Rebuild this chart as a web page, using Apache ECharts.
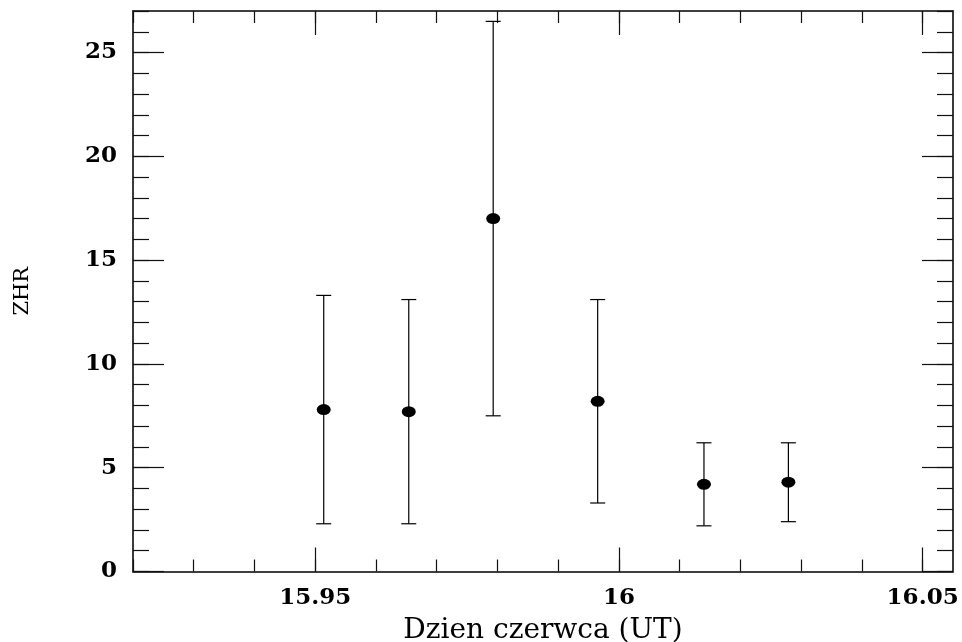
<!DOCTYPE html>
<html>
<head>
<meta charset="utf-8">
<script src="https://cdn.jsdelivr.net/npm/echarts@6/dist/echarts.min.js"></script>
<style>
  html, body { margin: 0; padding: 0; background: #fff; }
  #chart { width: 962px; height: 642px; }
</style>
</head>
<body>
<div id="chart"></div>
<script>
// ---- data ----
const dayUT   = [15.9514, 15.9654, 15.9793, 15.9965, 16.0140, 16.0279];
const zhr     = [7.8, 7.7, 17.0, 8.2, 4.2, 4.3];
const zhrLow  = [2.3, 2.3, 7.5, 3.3, 2.2, 2.4];
const zhrHigh = [13.3, 13.1, 26.5, 13.1, 6.2, 6.2];

const xMajorTicks = [15.95, 16, 16.05];
const xMinorTicks = [15.92, 15.93, 15.94, 15.95, 15.96, 15.97, 15.98, 15.99, 16.00, 16.01, 16.02, 16.03, 16.04, 16.05];
const yMajorTicks = [0, 5, 10, 15, 20, 25];
const yMinorTicks = [0,1,2,3,4,5,6,7,8,9,10,11,12,13,14,15,16,17,18,19,20,21,22,23,24,25,26,27];

const xName = 'Dzien czerwca (UT)';
const yName = 'ZHR';

// ---- chart ----
const X_MIN = 15.92, X_MAX = 16.055, Y_MIN = 0, Y_MAX = 27;
const lineCol = '#333';
const tickFont = { fontFamily: 'DejaVu Serif', fontWeight: 'bold', fontSize: 23, color: '#000' };

function xAxisDef(pos, ticks, len, labels) {
  return {
    type: 'value', position: pos, min: X_MIN, max: X_MAX,
    axisLine: { show: true, onZero: false, lineStyle: { color: lineCol, width: 1.6 } },
    axisTick: { show: true, inside: true, length: len, customValues: ticks, lineStyle: { color: '#111', width: 1.2 } },
    axisLabel: labels ? Object.assign({ show: true, margin: 15, customValues: xMajorTicks,
      formatter: v => String(+v.toFixed(2)) }, tickFont) : { show: false },
    splitLine: { show: false },
    name: labels ? xName : '',
    nameLocation: 'middle', nameGap: 45,
    nameTextStyle: { fontFamily: 'DejaVu Serif', fontSize: 28, color: '#000' }
  };
}
function yAxisDef(pos, ticks, len, labels) {
  return {
    type: 'value', position: pos, min: Y_MIN, max: Y_MAX,
    axisLine: { show: true, onZero: false, lineStyle: { color: lineCol, width: 1.6 } },
    axisTick: { show: true, inside: true, length: len, customValues: ticks, lineStyle: { color: '#111', width: 1.2 } },
    axisLabel: labels ? Object.assign({ show: true, margin: 16, customValues: yMajorTicks }, tickFont) : { show: false },
    splitLine: { show: false },
    name: labels ? yName : '',
    nameLocation: 'middle', nameGap: 100, nameRotate: 90,
    nameTextStyle: { fontFamily: 'DejaVu Serif', fontSize: 21, color: '#000' }
  };
}

const errData = dayUT.map((x, i) => [x, zhrLow[i], zhrHigh[i]]);
const ptData = dayUT.map((x, i) => [x, zhr[i]]);

const option = {
  animation: false,
  backgroundColor: '#fff',
  grid: { left: 133, right: 9, top: 11, bottom: 70.5, containLabel: false, outerBoundsMode: 'none' },
  xAxis: [
    xAxisDef('bottom', xMajorTicks, 24, true),
    xAxisDef('top', xMajorTicks, 24, false),
    xAxisDef('bottom', xMinorTicks, 12, false),
    xAxisDef('top', xMinorTicks, 12, false)
  ],
  yAxis: [
    yAxisDef('left', yMajorTicks, 31, true),
    yAxisDef('right', yMajorTicks, 31, false),
    yAxisDef('left', yMinorTicks, 16, false),
    yAxisDef('right', yMinorTicks, 16, false)
  ],
  series: [
    {
      type: 'custom',
      xAxisIndex: 0, yAxisIndex: 0,
      data: errData,
      encode: { x: 0, y: [1, 2] },
      renderItem: function (params, api) {
        const x = api.value(0), lo = api.value(1), hi = api.value(2);
        const pTop = api.coord([x, hi]);
        const pBot = api.coord([x, lo]);
        const hw = 7.5;
        const st = { stroke: '#000', lineWidth: 1.2 };
        return {
          type: 'group',
          children: [
            { type: 'line', shape: { x1: pTop[0], y1: pTop[1], x2: pBot[0], y2: pBot[1] }, style: st },
            { type: 'line', shape: { x1: pTop[0] - hw, y1: pTop[1], x2: pTop[0] + hw, y2: pTop[1] }, style: st },
            { type: 'line', shape: { x1: pBot[0] - hw, y1: pBot[1], x2: pBot[0] + hw, y2: pBot[1] }, style: st }
          ]
        };
      },
      z: 2
    },
    {
      type: 'scatter',
      xAxisIndex: 0, yAxisIndex: 0,
      data: ptData,
      symbol: 'circle',
      symbolSize: [14, 11],
      itemStyle: { color: '#000', opacity: 1 },
      z: 3
    }
  ]
};

const chart = echarts.init(document.getElementById('chart'), null, { renderer: 'canvas' });
chart.setOption(option);
</script>
</body>
</html>
